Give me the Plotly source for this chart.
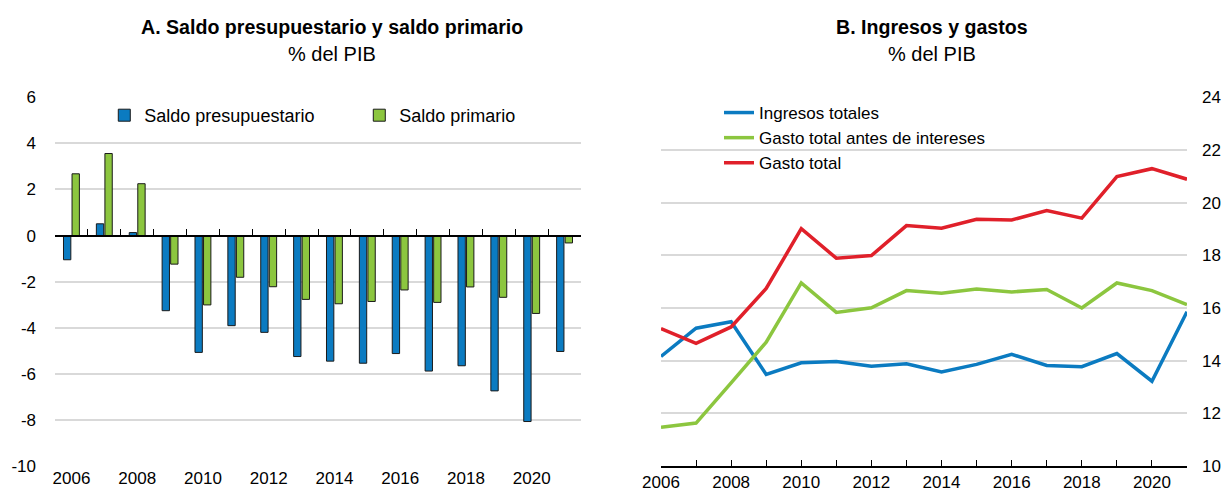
import plotly.graph_objects as go

# ---------------- Data ----------------
years = list(range(2006, 2022))

# Panel A (% del PIB)
saldo_presupuestario = [-1.05, 0.51, 0.13, -3.26, -5.07, -3.91, -4.20, -5.25,
                        -5.45, -5.54, -5.12, -5.88, -5.65, -6.74, -8.07, -5.03]
saldo_primario = [2.68, 3.56, 2.25, -1.24, -3.01, -1.81, -2.22, -2.77,
                  -2.96, -2.86, -2.36, -2.90, -2.23, -2.68, -3.38, -0.32]

# Panel B (% del PIB)
ingresos_totales = [14.16, 15.23, 15.48, 13.48, 13.92, 13.97, 13.79, 13.88,
                    13.57, 13.86, 14.24, 13.82, 13.77, 14.27, 13.22, 15.86]
gasto_antes_intereses = [11.47, 11.63, 13.16, 14.70, 16.95, 15.83, 16.01, 16.66,
                         16.56, 16.72, 16.61, 16.70, 16.00, 16.95, 16.66, 16.13]
gasto_total = [15.22, 14.66, 15.28, 16.74, 19.01, 17.89, 17.99, 19.13,
               19.03, 19.37, 19.34, 19.70, 19.41, 20.99, 21.29, 20.89]

title_a = "A. Saldo presupuestario y saldo primario"
title_b = "B. Ingresos y gastos"
subtitle = "% del PIB"

left_ticks = [-10, -8, -6, -4, -2, 0, 2, 4, 6]
left_ticktext = [str(v) for v in left_ticks]  # plain hyphen minus, as in the original
right_ticks = [10, 12, 14, 16, 18, 20, 22, 24]
year_labels = list(range(2006, 2021, 2))

# ---------------- Style ----------------
W, H = 1227, 493
FONT = "Liberation Sans Narrow, Arial Narrow, Liberation Sans, Arial, sans-serif"
BLUE = "#0B7BC1"
GREEN = "#8CC63F"
RED = "#E0202A"
GRID = "#D9D9D9"

ydom = [1 - 466 / H, 1 - 97.3 / H]
xdom_a = [55 / W, 581 / W]
xdom_b = [661 / W, 1187 / W]
p_zero = ydom[0] + (0 - (-10)) / 16 * (ydom[1] - ydom[0])

fig = go.Figure()

fig.add_trace(go.Bar(x=years, y=saldo_presupuestario, name="Saldo presupuestario",
                     marker=dict(color=BLUE, line=dict(color="#1a1a1a", width=1)),
                     xaxis="x", yaxis="y", legend="legend"))
fig.add_trace(go.Bar(x=years, y=saldo_primario, name="Saldo primario",
                     marker=dict(color=GREEN, line=dict(color="#1a1a1a", width=1)),
                     xaxis="x", yaxis="y", legend="legend"))
# dummy trace so the zero-line axis is drawn
fig.add_trace(go.Scatter(x=[2005.5], y=[None], xaxis="x3", yaxis="y",
                         showlegend=False, hoverinfo="skip", mode="lines"))

fig.add_trace(go.Scatter(x=years, y=ingresos_totales, name="Ingresos totales",
                         mode="lines", line=dict(color=BLUE, width=3.5),
                         xaxis="x2", yaxis="y2", legend="legend2"))
fig.add_trace(go.Scatter(x=years, y=gasto_antes_intereses, name="Gasto total antes de intereses",
                         mode="lines", line=dict(color=GREEN, width=3.5),
                         xaxis="x2", yaxis="y2", legend="legend2"))
fig.add_trace(go.Scatter(x=years, y=gasto_total, name="Gasto total",
                         mode="lines", line=dict(color=RED, width=3.5),
                         xaxis="x2", yaxis="y2", legend="legend2"))

tickfont = dict(family=FONT, size=17, color="#000")

fig.update_layout(
    width=W, height=H,
    margin=dict(l=0, r=0, t=0, b=0),
    paper_bgcolor="white", plot_bgcolor="white",
    font=dict(family=FONT, size=17, color="#000"),
    barmode="group", bargap=0.48, bargroupgap=0.14,
    xaxis=dict(domain=xdom_a, anchor="y", range=[2005.5, 2021.5],
               tickvals=year_labels, ticktext=[str(v) for v in year_labels],
               ticks="", showline=False, showgrid=False, zeroline=False,
               tickfont=tickfont, automargin=False),
    xaxis3=dict(overlaying="x", anchor="free", position=p_zero,
                range=[2005.5, 2021.5], tickmode="linear", tick0=2005.5, dtick=1,
                ticks="inside", ticklen=6, tickcolor="#000", tickwidth=1.2,
                showticklabels=False, showline=True, linecolor="#000", linewidth=1.5,
                showgrid=False, zeroline=False, automargin=False),
    yaxis=dict(domain=ydom, anchor="x", range=[-10, 6], tickvals=left_ticks,
               ticktext=left_ticktext,
               showgrid=True, gridcolor=GRID, gridwidth=2, zeroline=False,
               ticks="", showline=False, tickfont=tickfont, ticklabelstandoff=18,
               automargin=False),
    xaxis2=dict(domain=xdom_b, anchor="y2", range=[2006, 2021],
                tickmode="linear", tick0=2006, dtick=2,
                ticks="inside", ticklen=6, tickcolor="#000", tickwidth=1.2,
                minor=dict(tickmode="linear", tick0=2006, dtick=1, ticks="inside",
                           ticklen=6, tickcolor="#000", tickwidth=1.2, showgrid=False),
                showline=True, linecolor="#000", linewidth=1.5, showgrid=False,
                zeroline=False, tickfont=tickfont, automargin=False),
    yaxis2=dict(domain=ydom, anchor="x2", side="right", range=[10, 24],
                tickvals=right_ticks, showgrid=True, gridcolor=GRID, gridwidth=2,
                zeroline=False, ticks="", showline=False, tickfont=tickfont,
                ticklabelstandoff=14, automargin=False),
    legend=dict(orientation="h", x=0.085, y=1 - 115.5 / H, xanchor="left", yanchor="middle",
                bgcolor="rgba(0,0,0,0)", font=dict(family=FONT, size=18),
                entrywidth=210, entrywidthmode="pixels", traceorder="normal"),
    legend2=dict(orientation="v", x=0.586, y=1 - 95 / H, xanchor="left", yanchor="top",
                 bgcolor="rgba(0,0,0,0)", font=dict(family=FONT, size=17),
                 tracegroupgap=0, traceorder="normal"),
    showlegend=True,
)

fig.add_annotation(x=331.7 / W, y=1 - 27 / H, xref="paper", yref="paper",
                   text="<b>" + title_a + "</b>", showarrow=False,
                   font=dict(family=FONT, size=19.6), xanchor="center", yanchor="middle")
fig.add_annotation(x=331.7 / W, y=1 - 54 / H, xref="paper", yref="paper",
                   text=subtitle, showarrow=False,
                   font=dict(family=FONT, size=20), xanchor="center", yanchor="middle")
fig.add_annotation(x=932 / W, y=1 - 27 / H, xref="paper", yref="paper",
                   text="<b>" + title_b + "</b>", showarrow=False,
                   font=dict(family=FONT, size=19.6), xanchor="center", yanchor="middle")
fig.add_annotation(x=932 / W, y=1 - 54 / H, xref="paper", yref="paper",
                   text=subtitle, showarrow=False,
                   font=dict(family=FONT, size=20), xanchor="center", yanchor="middle")

fig.write_html("out.html", config={"displayModeBar": False},
               post_script="document.body.style.margin='0px';document.body.style.overflow='hidden';")
